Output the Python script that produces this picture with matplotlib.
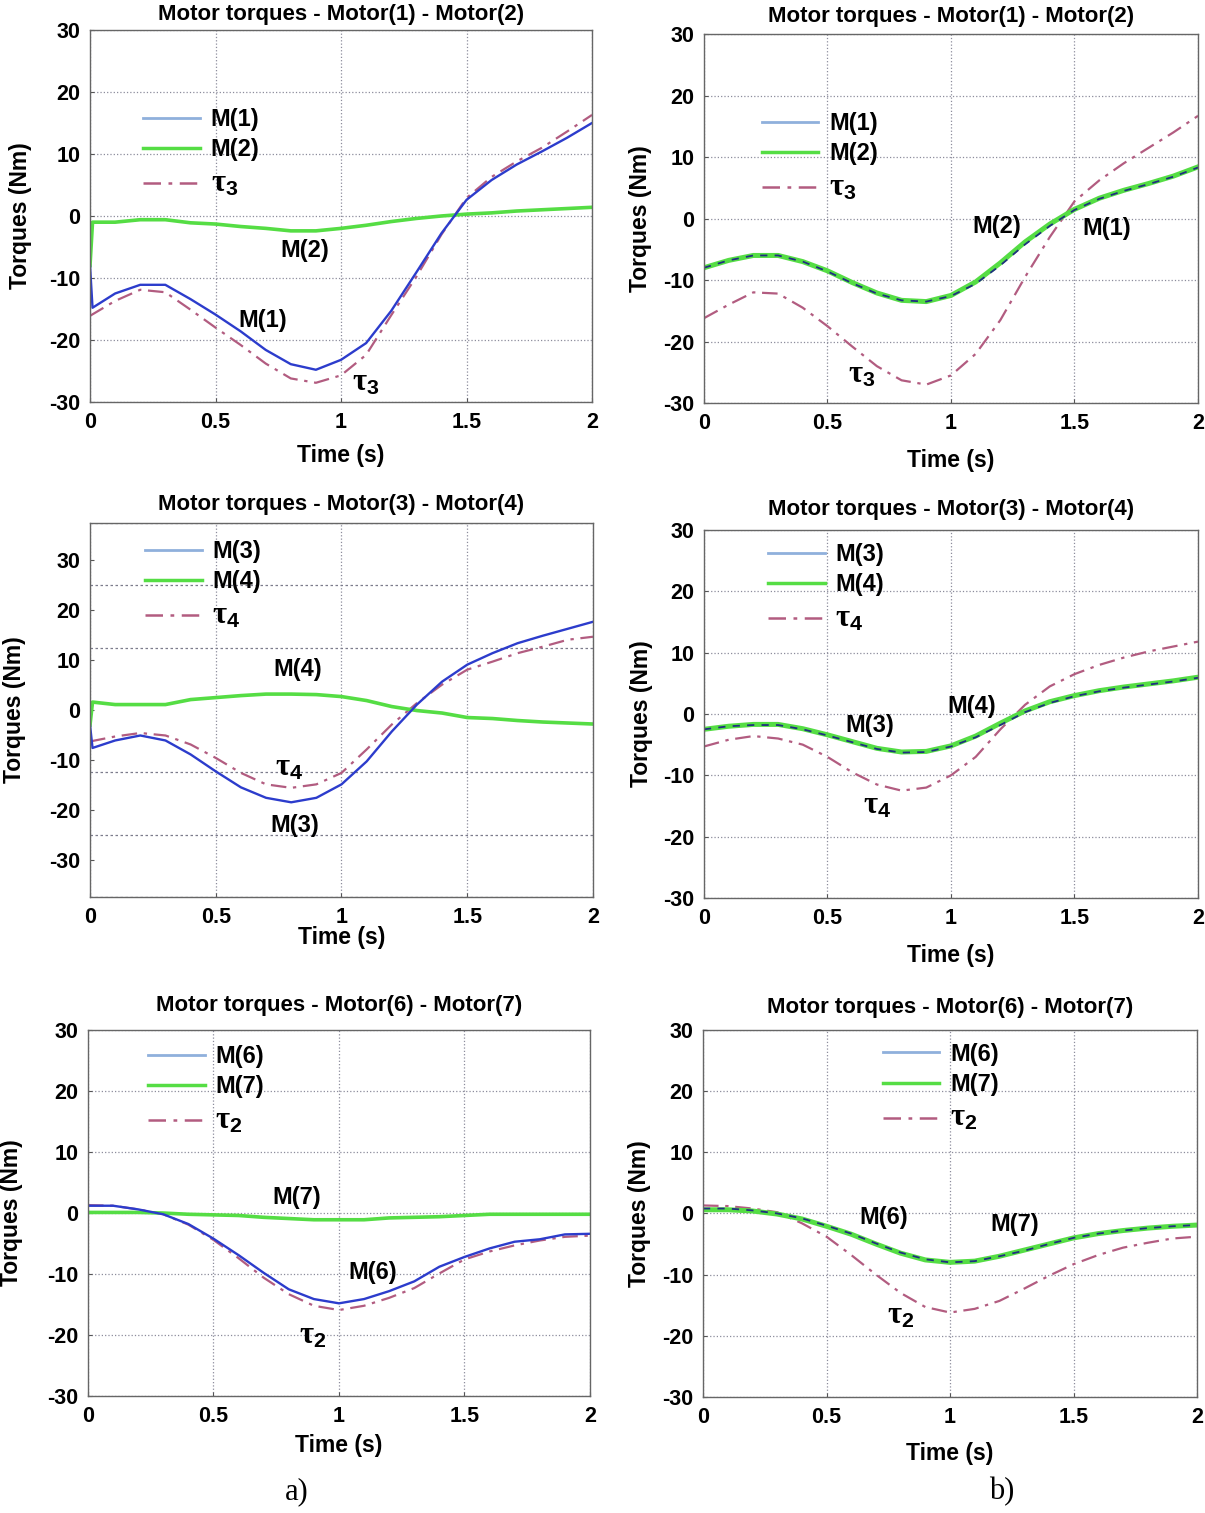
import matplotlib
matplotlib.use("Agg")
import matplotlib.pyplot as plt
from matplotlib.lines import Line2D
from matplotlib.ticker import MultipleLocator

plt.rcParams['font.family'] = ['Liberation Sans', 'DejaVu Sans']
plt.rcParams['font.weight'] = 'bold'
plt.rcParams['mathtext.fontset'] = 'custom'
plt.rcParams['mathtext.rm'] = 'Liberation Sans:bold'
plt.rcParams['mathtext.it'] = 'Liberation Serif'
plt.rcParams['mathtext.bf'] = 'Liberation Sans:bold'
plt.rcParams['axes.unicode_minus'] = False

# === Time bases (s)
t = [0.0, 0.1, 0.2, 0.3, 0.4, 0.5, 0.6, 0.7, 0.8, 0.9, 1.0,
     1.1, 1.2, 1.3, 1.4, 1.5, 1.6, 1.7, 1.8, 1.9, 2.0]
t_jump = [0.0, 0.01, 0.1, 0.2, 0.3, 0.4, 0.5, 0.6, 0.7, 0.8, 0.9, 1.0,
          1.1, 1.2, 1.3, 1.4, 1.5, 1.6, 1.7, 1.8, 1.9, 2.0]

# === a) Motor(1) - Motor(2)
a_m1 = [-8.0, -14.8, -12.5, -11.1, -11.1, -13.4, -15.9, -18.6, -21.6, -23.9, -24.8, -23.2,
        -20.5, -15.3, -9.1, -2.8, 2.6, 5.8, 8.3, 10.4, 12.6, 15.0]
a_m2 = [-8.0, -1.0, -1.0, -0.6, -0.6, -1.1, -1.3, -1.7, -2.0, -2.4, -2.4, -2.0,
        -1.5, -0.9, -0.4, 0.0, 0.3, 0.5, 0.8, 1.0, 1.2, 1.4]
a_tau3 = [-16.1, -13.7, -11.9, -12.3, -15.1, -18.0, -20.8, -23.8, -26.2, -26.9, -25.7,
          -22.4, -16.0, -9.8, -3.0, 2.9, 6.3, 8.8, 11.0, 13.6, 16.3]

# === b) Motor(1) - Motor(2)
b_m1 = [-8.0, -6.8, -6.0, -6.0, -7.0, -8.6, -10.5, -12.2, -13.3, -13.5, -12.6,
        -10.6, -7.6, -4.2, -1.2, 1.4, 3.2, 4.5, 5.6, 6.8, 8.3]
b_m2 = [-8.0, -6.8, -6.0, -6.0, -7.0, -8.5, -10.4, -12.1, -13.3, -13.5, -12.5,
        -10.3, -7.2, -3.8, -0.9, 1.5, 3.3, 4.6, 5.7, 6.9, 8.4]
b_tau3 = [-16.2, -14.0, -12.0, -12.2, -14.5, -17.5, -20.8, -24.0, -26.3, -27.0, -25.5,
          -22.0, -16.5, -9.5, -3.0, 2.8, 6.2, 9.0, 11.5, 14.0, 16.7]

# === a) Motor(3) - Motor(4)
a_m3 = [-3.0, -7.6, -6.1, -5.1, -6.1, -8.9, -12.3, -15.5, -17.6, -18.5, -17.6, -14.9,
        -10.3, -4.3, 1.1, 5.7, 9.1, 11.4, 13.4, 14.9, 16.3, 17.7]
a_m4 = [-3.0, 1.6, 1.1, 1.1, 1.1, 2.1, 2.5, 2.9, 3.2, 3.2, 3.1, 2.7,
        1.9, 0.7, -0.1, -0.6, -1.5, -1.7, -2.1, -2.4, -2.6, -2.8]
a_tau4 = [-6.3, -5.3, -4.6, -5.1, -6.9, -9.6, -12.6, -14.9, -15.6, -14.9, -12.6,
          -7.9, -2.9, 1.4, 5.1, 8.1, 9.7, 11.4, 12.7, 14.1, 14.7]

# === b) Motor(3) - Motor(4)
b_m3 = [-2.5, -2.0, -1.8, -1.8, -2.5, -3.5, -4.6, -5.7, -6.3, -6.2, -5.3,
        -3.8, -1.8, 0.3, 1.8, 2.9, 3.7, 4.3, 4.8, 5.3, 5.9]
b_m4 = [-2.5, -2.0, -1.7, -1.7, -2.4, -3.4, -4.5, -5.6, -6.2, -6.1, -5.2,
        -3.6, -1.5, 0.5, 2.0, 3.0, 3.8, 4.4, 4.9, 5.4, 6.0]
b_tau4 = [-5.3, -4.2, -3.6, -4.0, -5.0, -7.0, -9.5, -11.5, -12.5, -12.0, -10.0,
          -7.0, -2.5, 1.5, 4.5, 6.5, 8.0, 9.2, 10.2, 11.0, 11.8]

# === a) Motor(6) - Motor(7)
a_m6 = [1.2, 1.2, 0.6, -0.2, -1.8, -4.2, -6.9, -9.8, -12.5, -14.1, -14.8,
        -14.1, -12.8, -11.2, -8.8, -7.2, -5.8, -4.7, -4.3, -3.5, -3.4]
a_m7 = [0.1, 0.1, 0.1, 0.0, -0.2, -0.3, -0.4, -0.7, -0.9, -1.1, -1.1,
        -1.1, -0.8, -0.7, -0.6, -0.4, -0.2, -0.2, -0.2, -0.2, -0.2]
a_tau2 = [1.3, 1.2, 0.6, -0.2, -1.9, -4.4, -7.4, -10.6, -13.3, -15.2, -15.9,
          -15.2, -13.9, -12.3, -9.9, -7.6, -6.3, -5.3, -4.5, -3.9, -3.7]

# === b) Motor(6) - Motor(7)
b_m6 = [0.8, 0.8, 0.5, 0.0, -0.8, -2.0, -3.3, -4.9, -6.4, -7.5, -8.0,
        -7.8, -7.0, -6.1, -5.0, -4.0, -3.3, -2.8, -2.4, -2.1, -1.9]
b_m7 = [0.6, 0.6, 0.4, -0.1, -0.9, -2.1, -3.4, -5.0, -6.5, -7.6, -8.0,
        -7.8, -7.0, -6.0, -5.0, -4.0, -3.3, -2.8, -2.4, -2.1, -1.9]
b_tau2 = [1.3, 1.2, 0.8, 0.2, -1.6, -3.8, -6.8, -10.0, -13.0, -15.3, -16.2,
          -15.6, -14.3, -12.3, -10.2, -8.3, -6.8, -5.6, -4.8, -4.1, -3.8]

BLUE = '#2c3ccc'
LBLUE = '#8fb0dc'
GREEN = '#55dd44'
TAU = '#b25c80'
DASHDOT = (0, (7, 3, 1.5, 3))
FS_TICK = 15.5
FS_LAB = 16.5
FS_TITLE = 16
FS_LEG = 17
FS_TAU = 22


def style_axes(ax, title, title_pad, xlab_y, ylab_x):
    ax.set_xlim(0, 2)
    ax.set_xticks([0, 0.5, 1, 1.5, 2])
    ax.set_xticklabels(['0', '0.5', '1', '1.5', '2'])
    ax.set_title(title, fontsize=FS_TITLE, fontweight='bold', pad=title_pad)
    ax.set_xlabel('Time (s)', fontsize=FS_LAB, fontweight='bold')
    ax.set_ylabel('Torques (Nm)', fontsize=FS_LAB, fontweight='bold')
    ax.xaxis.set_label_coords(0.5, xlab_y)
    ax.yaxis.set_label_coords(ylab_x, 0.5)
    ax.tick_params(direction='in', length=3, labelsize=FS_TICK, pad=7, color='#555555')
    for s in ax.spines.values():
        s.set_color('#666666')
        s.set_linewidth(1.0)


def add_legend(ax, names, x0, y0):
    handles = [Line2D([], [], color=LBLUE, lw=2),
               Line2D([], [], color=GREEN, lw=2.5),
               Line2D([], [], color=TAU, lw=1.8, ls=DASHDOT)]
    leg = ax.legend(handles, names, loc='upper left', bbox_to_anchor=(x0, y0),
                    frameon=False, fontsize=FS_LEG, handlelength=2.4, handletextpad=0.45,
                    labelspacing=0.3, borderpad=0, borderaxespad=0)
    leg.get_texts()[2].set_fontsize(FS_TAU)


def note(ax, x, y, s):
    ax.text(x, y, s, fontsize=FS_LEG, fontweight='bold', ha='center', va='center')


def tau_note(ax, x, y, s):
    ax.text(x, y, s, fontsize=FS_TAU, ha='center', va='center')


def left_panel(ax, tt_a, m_a, tt_b, m_b, tau):
    ax.set_ylim(-30, 30)
    ax.set_yticks([-30, -20, -10, 0, 10, 20, 30])
    ax.grid(True, color='#8c8c9c', ls=':', lw=0.9)
    ax.plot(t, tau, color=TAU, lw=1.6, ls=DASHDOT)
    ax.plot(tt_b, m_b, color=GREEN, lw=2.6)
    ax.plot(tt_a, m_a, color=BLUE, lw=1.7)


def right_panel(ax, m_a, m_b, tau):
    ax.set_ylim(-30, 30)
    ax.set_yticks([-30, -20, -10, 0, 10, 20, 30])
    ax.grid(True, color='#8c8c9c', ls=':', lw=0.9)
    ax.plot(t, tau, color=TAU, lw=1.6, ls=DASHDOT)
    ax.plot(t, m_b, color=GREEN, lw=3.6)
    ax.plot(t, m_a, color='#1f2f80', lw=1.3, ls=(0, (4, 4)))


TAU2 = r'$\tau_{\mathrm{2}}$'
TAU3 = r'$\tau_{\mathrm{3}}$'
TAU4 = r'$\tau_{\mathrm{4}}$'

fig = plt.figure(figsize=(12.05, 15.13), dpi=100)

# --- row 1
ax1 = fig.add_axes([0.0747, 0.7343, 0.4166, 0.2459])
style_axes(ax1, 'Motor torques - Motor(1) - Motor(2)', 7.5, -0.113, -0.1155)
left_panel(ax1, t_jump, a_m1, t_jump, a_m2, a_tau3)
add_legend(ax1, ['M(1)', 'M(2)', TAU3], 0.106, 0.79)
note(ax1, 0.855, -5.5, 'M(2)')
note(ax1, 0.687, -16.9, 'M(1)')
tau_note(ax1, 1.096, -26.8, TAU3)

ax2 = fig.add_axes([0.5842, 0.7336, 0.41, 0.2439])
style_axes(ax2, 'Motor torques - Motor(1) - Motor(2)', 9, -0.125, -0.105)
right_panel(ax2, b_m1, b_m2, b_tau3)
add_legend(ax2, ['M(1)', 'M(2)', TAU3], 0.117, 0.789)
note(ax2, 1.186, -1.3, 'M(2)')
note(ax2, 1.632, -1.6, 'M(1)')
tau_note(ax2, 0.64, -25.4, TAU3)

# --- row 2 (left panel: tick labels every 10, grid every 12.5)
ax3 = fig.add_axes([0.0747, 0.4071, 0.4174, 0.2472])
style_axes(ax3, 'Motor torques - Motor(3) - Motor(4)', 9.5, -0.0775, -0.127)
ax3.set_ylim(-37.5, 37.5)
ax3.set_yticks([-30, -20, -10, 0, 10, 20, 30])
ax3.yaxis.set_minor_locator(MultipleLocator(12.5))
ax3.tick_params(axis='y', which='minor', length=0)
ax3.grid(True, which='major', axis='x', color='#8c8c9c', ls=':', lw=0.9)
ax3.grid(True, which='minor', axis='y', color='#7c7c8c', ls=(0, (2, 2)), lw=0.9)
ax3.plot(t, a_tau4, color=TAU, lw=1.6, ls=DASHDOT)
ax3.plot(t_jump, a_m4, color=GREEN, lw=2.6)
ax3.plot(t_jump, a_m3, color=BLUE, lw=1.7)
add_legend(ax3, ['M(3)', 'M(4)', TAU4], 0.109, 0.955)
note(ax3, 0.824, 8.2, 'M(4)')
tau_note(ax3, 0.79, -11.6, TAU4)
note(ax3, 0.816, -23.2, 'M(3)')

ax4 = fig.add_axes([0.5842, 0.4065, 0.41, 0.2432])
style_axes(ax4, 'Motor torques - Motor(3) - Motor(4)', 10.5, -0.125, -0.103)
right_panel(ax4, b_m3, b_m4, b_tau4)
add_legend(ax4, ['M(3)', 'M(4)', TAU4], 0.13, 0.965)
note(ax4, 1.085, 1.3, 'M(4)')
note(ax4, 0.672, -1.8, 'M(3)')
tau_note(ax4, 0.70, -15.0, TAU4)

# --- row 3
ax5 = fig.add_axes([0.073, 0.0773, 0.4166, 0.2419])
style_axes(ax5, 'Motor torques - Motor(6) - Motor(7)', 14, -0.104, -0.129)
left_panel(ax5, t, a_m6, t, a_m7, a_tau2)
add_legend(ax5, ['M(6)', 'M(7)', TAU2], 0.12, 0.959)
note(ax5, 0.83, 2.5, 'M(7)')
note(ax5, 1.136, -9.8, 'M(6)')
tau_note(ax5, 0.896, -20.0, TAU2)

ax6 = fig.add_axes([0.5834, 0.0767, 0.41, 0.2426])
style_axes(ax6, 'Motor torques - Motor(6) - Motor(7)', 12, -0.1226, -0.105)
right_panel(ax6, b_m6, b_m7, b_tau2)
add_legend(ax6, ['M(6)', 'M(7)', TAU2], 0.364, 0.965)
note(ax6, 0.73, -0.7, 'M(6)')
note(ax6, 1.26, -1.8, 'M(7)')
tau_note(ax6, 0.80, -16.7, TAU2)

# --- sub-figure tags
fig.text(297 / 1205, 1 - 1492 / 1513, 'a)', family='Liberation Serif', fontweight='normal',
         fontsize=22, ha='center', va='center')
fig.text(1002 / 1205, 1 - 1492 / 1513, 'b)', family='Liberation Serif', fontweight='normal',
         fontsize=22, ha='center', va='center')

fig.savefig('out.png', dpi=100)
print("Figure saved as out.png")
